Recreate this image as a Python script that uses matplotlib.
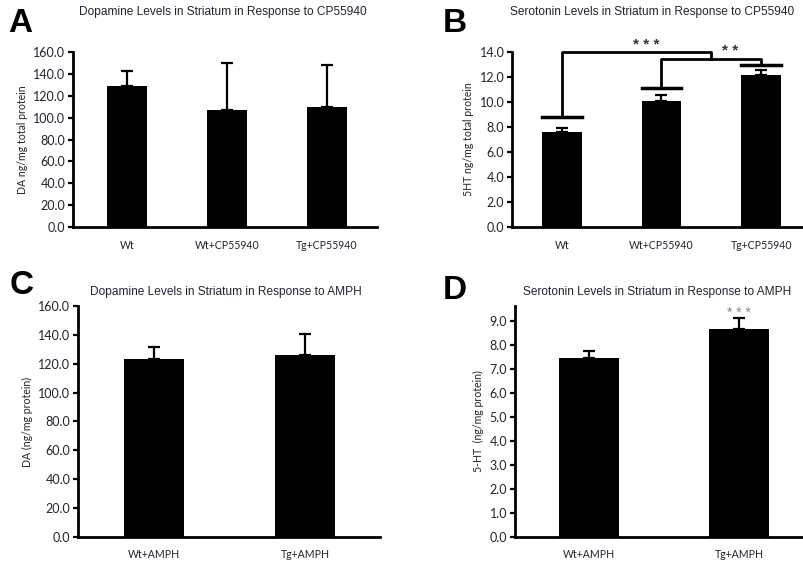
import numpy as np
import matplotlib
matplotlib.use('Agg')
import matplotlib.pyplot as plt

# Datos
cat_a = ['Wt', 'Wt+CP55940', 'Tg+CP55940']
da_cp = [129.3, 106.9, 109.3]
da_cp_err = [13.4, 43.0, 38.6]

cat_b = ['Wt', 'Wt+CP55940', 'Tg+CP55940']
ht_cp = [7.62, 10.1, 12.14]
ht_cp_err = [0.27, 0.45, 0.40]

cat_c = ['Wt+AMPH', 'Tg+AMPH']
da_amph = [123.0, 126.2]
da_amph_err = [8.3, 14.4]

cat_d = ['Wt+AMPH', 'Tg+AMPH']
ht_amph = [7.45, 8.65]
ht_amph_err = [0.28, 0.45]

# Corchetes de significancia del panel B: (desde, hasta, alto1, alto2, techo, texto, x del texto)
brackets_b = [(0, 1.5, 8.82, 13.47, 14.0, '* * *', 0.85),
              (1, 2, 11.16, 12.94, 13.47, '* *', 1.69)]

txt = '#222230'
tick_font = 'Lato'
title_font = 'Liberation Sans'

fig = plt.figure(figsize=(8.04, 5.64), dpi=100)


def panel(rect, cats, vals, errs, ymax, step, xlim, title, ylabel, letter, letter_xy, title_xy):
    ax = fig.add_axes(rect)
    x = np.arange(len(cats))
    ax.bar(x, vals, width=0.4, color='black', zorder=2)
    ax.errorbar(x, vals, yerr=[np.zeros(len(vals)), errs], fmt='none', ecolor='black',
                elinewidth=1.6, capsize=4, capthick=1.6, zorder=3)
    ax.set_xlim(*xlim)
    ax.set_ylim(0, ymax)
    ticks = np.arange(0, ymax + 1e-6, step)
    ax.set_yticks(ticks)
    ax.set_yticklabels([f'{t:.1f}' for t in ticks], fontsize=9, family=tick_font, color=txt)
    ax.set_xticks(x)
    ax.set_xticklabels(cats, fontsize=7.6, family=tick_font, color=txt)
    ax.tick_params(axis='x', length=0, pad=9)
    ax.tick_params(axis='y', length=3.5, width=1.6, direction='out', pad=2)
    for s in ['top', 'right']:
        ax.spines[s].set_visible(False)
    for s in ['left', 'bottom']:
        ax.spines[s].set_linewidth(2)
    ax.set_ylabel(ylabel, fontsize=7.6, family=tick_font, color=txt, labelpad=4)
    fig.text(title_xy[0], title_xy[1], title, ha='center', va='center',
             fontsize=8.6, family=title_font, color=txt)
    fig.text(letter_xy[0], letter_xy[1], letter, fontsize=24, fontweight='bold',
             family=title_font, color='black', ha='left', va='center')
    return ax


ax_a = panel([0.0908, 0.5975, 0.3781, 0.3103], cat_a, da_cp, da_cp_err, 160, 20, (-0.54, 2.5),
             'Dopamine Levels in Striatum in Response to CP55940', 'DA ng/mg total protein',
             'A', (0.010, 0.958), (0.277, 0.978))

ax_b = panel([0.6368, 0.5975, 0.3632, 0.3103], cat_b, ht_cp, ht_cp_err, 14, 2, (-0.5, 2.43),
             'Serotonin Levels in Striatum in Response to CP55940', '5HT ng/mg total protein',
             'B', (0.551, 0.958), (0.811, 0.978))

ax_c = panel([0.0970, 0.0479, 0.3756, 0.4096], cat_c, da_amph, da_amph_err, 160, 20, (-0.503, 1.497),
             'Dopamine Levels in Striatum in Response to AMPH', 'DA (ng/mg protein)',
             'C', (0.012, 0.493), (0.281, 0.482))

ax_d = panel([0.6405, 0.0479, 0.3595, 0.4096], cat_d, ht_amph, ht_amph_err, 9.62, 1, (-0.49, 1.43),
             'Serotonin Levels in Striatum in Response to AMPH', '5-HT  (ng/mg protein)',
             'D', (0.551, 0.485), (0.817, 0.482))

# Corchetes en B
for x0, x1, h0, h1, top, lab, xt in brackets_b:
    ax_b.plot([x0, x0, x1, x1], [h0, top, top, h1], color='black', lw=2, clip_on=False, zorder=4)
    ax_b.plot([x0 - 0.2, x0 + 0.2], [h0, h0], color='black', lw=2.5, clip_on=False, zorder=4)
    if x1 == int(x1):
        ax_b.plot([x1 - 0.2, x1 + 0.2], [h1, h1], color='black', lw=2.5, clip_on=False, zorder=4)
    ax_b.text(xt, top + 0.02, lab, ha='center', va='bottom', family=title_font,
              fontsize=11, fontweight='bold', color='#333344', clip_on=False)

# Asteriscos en D
ax_d.text(1, ht_amph[1] + ht_amph_err[1] - 0.05, '* * *', ha='center', va='bottom',
          family=title_font, fontsize=10, color='#888888')

fig.savefig('out.png', dpi=100)
